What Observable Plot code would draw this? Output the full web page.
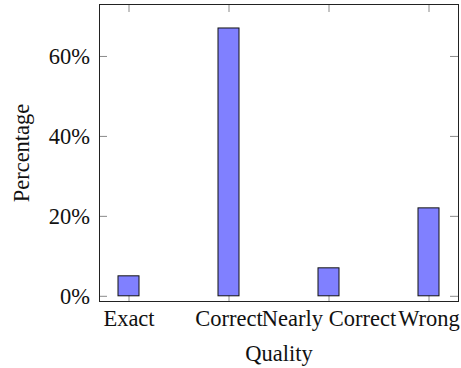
<!DOCTYPE html>
<html>
<head>
<meta charset="utf-8">
<script src="https://cdn.jsdelivr.net/npm/d3@7"></script>
<script src="https://cdn.jsdelivr.net/npm/@observablehq/plot@0.6"></script>
<style>
  html, body { margin: 0; padding: 0; background: #fff; }
</style>
</head>
<body>
<div id="chart"></div>
<script>
const categories = ["Exact", "Correct", "Nearly Correct", "Wrong"];
const values = [5, 67, 7, 22];
const yTicks = [0, 20, 40, 60];

const data = categories.map((c, i) => ({quality: c, pct: values[i]}));

const W = 461, H = 368;
const mL = 99, mR = 3, mT = 4, mB = 67;
const plotW = W - mL - mR, plotH = H - mT - mB;
const tickLen = 8;
const tickColor = "#8a8a8a";
const fmt = d => d + "%";

const chart = Plot.plot({
  width: W,
  height: H,
  marginLeft: mL,
  marginRight: mR,
  marginTop: mT,
  marginBottom: mB,
  style: {fontFamily: "'Liberation Serif', 'Times New Roman', serif", fontSize: "22.5px", background: "#fff", color: "#111", overflow: "visible"},
  x: {domain: categories, paddingInner: 0.79, paddingOuter: 0.19},
  y: {domain: [-1.3, 73]},
  marks: [
    Plot.tickY(yTicks, {y: d => d, stroke: tickColor, insetRight: plotW - tickLen}),
    Plot.tickY(yTicks, {y: d => d, stroke: tickColor, insetLeft: plotW - tickLen}),
    Plot.tickX(categories, {x: d => d, stroke: tickColor, insetBottom: plotH - tickLen}),
    Plot.tickX(categories, {x: d => d, stroke: tickColor, insetTop: plotH - tickLen}),
    Plot.barY(data, {x: "quality", y: "pct", fill: "#8080ff", stroke: "#111", strokeWidth: 1}),
    Plot.frame({stroke: "#222", strokeWidth: 1}),
    Plot.axisX({tickSize: 0, tickPadding: 9, label: "Quality", labelAnchor: "center", labelArrow: "none", labelOffset: 59, fill: "#111", fontSize: 22.5}),
    Plot.axisY(yTicks, {tickSize: 0, tickPadding: 9.5, tickFormat: fmt, label: "Percentage", labelAnchor: "center", labelArrow: "none", labelOffset: 86, fill: "#111", fontSize: 22.5})
  ]
});
document.getElementById("chart").appendChild(chart);
</script>
</body>
</html>
